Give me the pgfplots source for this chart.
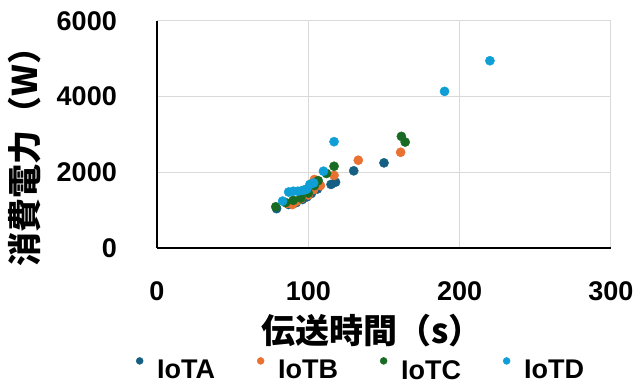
\documentclass[border=0pt]{standalone}
\usepackage{fontspec}
\setmainfont{Liberation Sans}
\newfontfamily\jp{Noto Sans CJK JP}
\usepackage{pgfplots}
\pgfplotsset{compat=1.18}
\definecolor{cA}{HTML}{156082}
\definecolor{cB}{HTML}{E97132}
\definecolor{cC}{HTML}{196B24}
\definecolor{cD}{HTML}{0F9ED5}
\definecolor{gridc}{HTML}{D9D9D9}
\begin{document}
\begin{tikzpicture}[x=1pt,y=1pt]
\useasboundingbox (-157,-139) rectangle (478,248);
\begin{axis}[
  at={(0,0)}, anchor=south west,
  scale only axis, width=454pt, height=227pt,
  xmin=0, xmax=300, ymin=0, ymax=6000,
  xtick={0,100,200,300}, ytick={0,2000,4000,6000},
  axis x line*=bottom, axis y line*=left,
  axis line style={-, line width=2.5pt, black},
  grid=major, major grid style={draw=gridc, line width=1pt},
  major tick length=0pt,
  /pgf/number format/assume math mode=true,
  /pgf/number format/1000 sep={},
  tick label style={font=\bfseries\fontsize{27}{30}\selectfont},
  yticklabel style={anchor=east, inner sep=0pt, xshift=-40pt},
  xticklabel style={anchor=north, inner sep=0pt, yshift=-33pt},
  xlabel={\jp\bfseries 伝送時間（s）},
  ylabel={\jp\bfseries 消費電力（W）},
  xlabel style={at={(axis description cs:0.4736,-0.3656)}, anchor=center, font=\fontsize{34}{38}\selectfont},
  ylabel style={at={(axis description cs:-0.2907,0.44)}, anchor=center, rotate=0, font=\fontsize{34}{38}\selectfont},
  legend columns=4,
  legend style={at={(axis description cs:0.4475,-0.533)}, anchor=center, draw=none, fill=none,
    font=\bfseries\fontsize{27}{30}\selectfont,
    nodes={inner sep=0pt},
    /tikz/every odd column/.append style={column sep=14pt},
    /tikz/every even column/.append style={column sep=42pt}},
  legend image code/.code={\draw[#1, mark size=3.5pt] plot coordinates {(0pt,9.5pt)};},
]
\addplot[only marks, mark=*, color=cA, mark size=4.6pt] coordinates {
(79,1040) (87,1150) (92,1200) (96,1280) (99,1350) (102,1440) (106,1560) (115,1680) (118,1740) (130,2040) (150,2250)
};
\addlegendentry{IoTA}
\addplot[only marks, mark=*, color=cB, mark size=4.6pt] coordinates {
(86,1180) (89.5,1150) (92,1230) (95,1300) (100,1400) (103.5,1545) (104,1810) (108,1650) (117,1920) (133,2320) (161,2530)
};
\addlegendentry{IoTB}
\addplot[only marks, mark=*, color=cC, mark size=4.6pt] coordinates {
(78.5,1090) (85,1200) (90,1260) (95,1320) (100,1450) (104,1650) (106.5,1780) (112,1970) (117,2160) (161.5,2950) (164,2800)
};
\addlegendentry{IoTC}
\addplot[only marks, mark=*, color=cD, mark size=4.6pt] coordinates {
(83,1240) (87,1480) (90,1500) (93,1500) (96,1520) (98,1540) (99,1560) (101,1680) (103.5,1720) (110,2030) (117,2810) (190,4140) (220,4950)
};
\addlegendentry{IoTD}
\end{axis}
\end{tikzpicture}
\end{document}
